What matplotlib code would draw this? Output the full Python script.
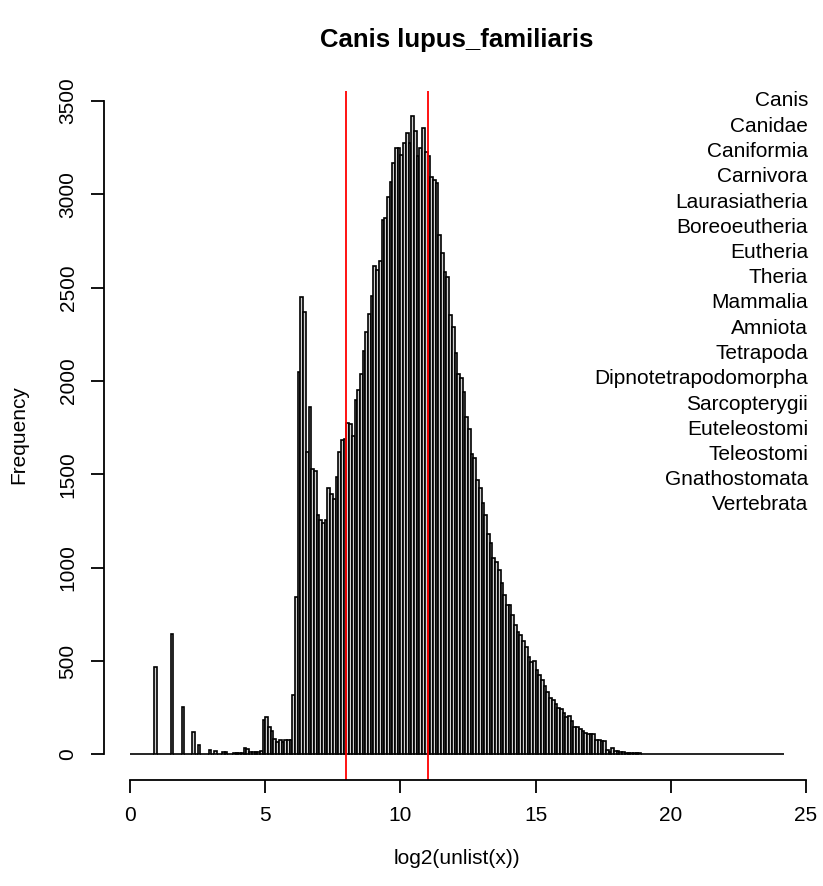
import numpy as np
import matplotlib
matplotlib.use("Agg")
import matplotlib.pyplot as plt

# --- Datos del histograma (frecuencia por intervalo de 0.1) ---
bin_start = 0.0
bin_width = 0.1
counts = [
    0, 0, 0, 0, 0, 0, 0, 0, 0, 468,
    0, 0, 0, 0, 0, 645, 0, 0, 0, 252,
    0, 0, 0, 118, 0, 50, 0, 0, 0, 25,
    0, 20, 0, 0, 13, 13, 0, 0, 8, 8,
    8, 8, 34, 28, 14, 14, 12, 14, 16, 186,
    198, 146, 123, 84, 66, 80, 66, 76, 76, 76,
    316, 843, 2048, 2450, 2370, 1620, 1861, 1530, 1518, 1280,
    1257, 1239, 1254, 1427, 1397, 1370, 1486, 1620, 1686, 1691,
    1772, 1768, 1704, 1896, 1950, 2039, 2158, 2262, 2356, 2454,
    2614, 2593, 2640, 2861, 2870, 2982, 3066, 3164, 3248, 3245,
    3209, 3272, 3329, 3275, 3418, 3339, 3204, 3245, 3352, 3227,
    3204, 3089, 3075, 3061, 2780, 2686, 2584, 2554, 2352, 2286,
    2150, 2039, 2013, 1941, 1807, 1740, 1607, 1589, 1468, 1429,
    1346, 1280, 1179, 1134, 1054, 1030, 989, 918, 852, 802,
    798, 745, 691, 655, 638, 607, 575, 521, 495, 498,
    450, 423, 396, 364, 334, 304, 289, 268, 250, 245,
    221, 200, 204, 179, 146, 146, 138, 125, 114, 111,
    110, 108, 80, 80, 70, 72, 22, 12, 36, 18,
    17, 12, 12, 10, 8, 7, 7, 6, 6, 5,
    5, 4, 3, 3, 2, 2, 2, 2, 1, 1,
    1, 0, 0, 0, 0, 0, 0, 0, 0, 0,
    0, 0, 0, 0, 0, 0, 0, 0, 0, 0,
    0, 0, 0, 0, 0, 0, 0, 0, 0, 0,
    0, 0, 0, 0, 0, 0, 0, 0, 0, 0,
    0, 0,
]
cutoffs = [8, 11]
x_ticks = [0, 5, 10, 15, 20, 25]
y_ticks = [0, 500, 1000, 1500, 2000, 2500, 3000, 3500]
taxa = ["Canis", "Canidae", "Caniformia", "Carnivora", "Laurasiatheria",
        "Boreoeutheria", "Eutheria", "Theria", "Mammalia", "Amniota",
        "Tetrapoda", "Dipnotetrapodomorpha", "Sarcopterygii", "Euteleostomi",
        "Teleostomi", "Gnathostomata", "Vertebrata"]

plt.rcParams['font.family'] = ['Liberation Sans', 'DejaVu Sans']

W, H = 823, 886
fig = plt.figure(figsize=(W / 100, H / 100), dpi=100)
# region del grafico (estilo R)
ax = fig.add_axes([104 / W, 1 - 780 / H, (810.5 - 104) / W, (780 - 90.5) / H])

left = bin_start + bin_width * np.arange(len(counts))
ax.bar(left, counts, width=bin_width, align='edge', color='lightgray',
       edgecolor='black', linewidth=1.2)

for c in cutoffs:
    ax.axvline(c, color='red', lw=1.3)

x_lo, x_hi = left[0], left[-1] + bin_width
dx = 0.04 * (x_hi - x_lo)
ax.set_xlim(x_lo - dx, x_hi + dx)
ymax = max(counts)
ax.set_ylim(-0.04 * ymax, 1.04 * ymax)

# ejes al estilo R
for s in ['top', 'right']:
    ax.spines[s].set_visible(False)
ax.spines['bottom'].set_bounds(x_ticks[0], x_ticks[-1])
ax.spines['left'].set_bounds(y_ticks[0], y_ticks[-1])
for s in ['bottom', 'left']:
    ax.spines[s].set_linewidth(1.3)
ax.set_xticks(x_ticks)
ax.set_yticks(y_ticks)
ax.tick_params(direction='out', length=9.5, width=1.3, labelsize=15, pad=9.5)
plt.setp(ax.get_yticklabels(), rotation=90, va='center')

fig.text(457 / W, 1 - 40 / H, "Canis lupus_familiaris", ha='center', va='center',
         fontsize=18.5, fontweight='bold')
fig.text(457 / W, 1 - 858 / H, "log2(unlist(x))", ha='center', va='center', fontsize=15)
fig.text(19 / W, 1 - 435 / H, "Frequency", ha='center', va='center', rotation=90, fontsize=15)

# nombres de los taxones a la derecha
for k, name in enumerate(taxa):
    fig.text(808 / W, 1 - (101 + 25.25 * k) / H, name, ha='right', va='center', fontsize=15)

fig.savefig("out.png", dpi=100)
